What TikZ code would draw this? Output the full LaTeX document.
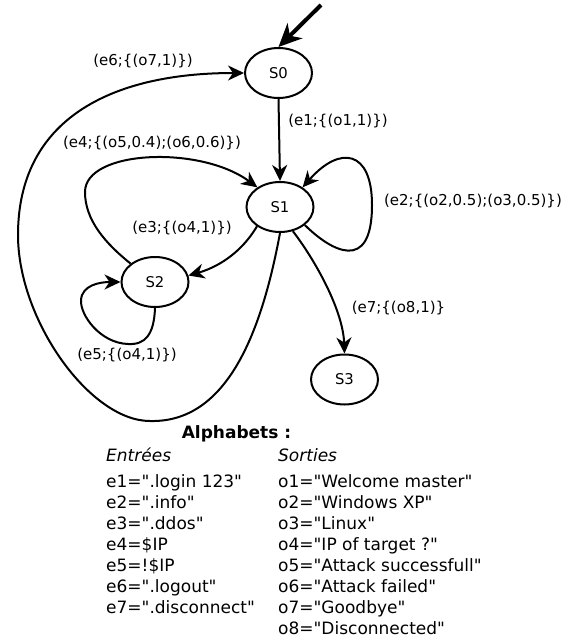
\documentclass[tikz,border=0pt]{standalone}
\usepackage{fontspec}
\setmainfont{DejaVu Sans}[Ligatures=TeXOff]
\usetikzlibrary{arrows.meta,shapes.geometric}
\begin{document}
\begin{tikzpicture}[x=1pt,y=-1pt,
  state/.style={draw,ellipse,line width=2pt,minimum width=67pt,minimum height=50pt,inner sep=0pt,font=\fontsize{14.8}{17}\selectfont},
  edge/.style={line width=2pt,-{Stealth[length=16pt,width=15pt,inset=5pt]}},
  lbl/.style={font=\fontsize{15}{17}\selectfont,inner sep=0pt},
  leg/.style={font=\fontsize{17}{21}\selectfont,anchor=base west,inner sep=0pt}]
\useasboundingbox (0,0) rectangle (580,639);
\node[state] (S0) at (278.5,73) {S0};
\node[state] (S1) at (280,207) {S1};
\node[state] (S2) at (155,282) {S2};
\node[state] (S3) at (344.5,379.5) {S3};
\coordinate (init) at (321,5);
\draw[line width=4pt,-{Stealth[length=23pt,width=21pt,inset=7pt]}] (init) -- (S0.north);
% e1
\draw[edge] (S0.south) -- (S1.north);
% e2 self loop
\draw[edge] (S1.-36) .. controls (330,250) and (372,275) .. (372,205) .. controls (372,150) and (340,145) .. (S1.41);
% e3
\draw[edge] (S1.220) .. controls (240,255) and (215,268) .. (S2.11);
% e4
\draw[edge] (S2.143) .. controls (105,243) and (85,220) .. (85,192) .. controls (85,150) and (200,145) .. (S1.139);
% e5 self loop
\draw[edge] (S2.south) .. controls (154,335) and (145,345) .. (128,344) .. controls (100,343) and (80,315) .. (81,300) .. controls (82,285) and (100,282) .. (S2.west);
% e7
\draw[edge] (S1.-62) .. controls (315,260) and (343,310) .. (S3.north);
% e6
\draw[edge] (S1.south) .. controls (262,330) and (228,423) .. (150,421) .. controls (90,421) and (18,320) .. (18,235) .. controls (18,120) and (110,73) .. (S0.west);
% labels
\node[lbl] (l6) at (143,61) {(e6;\{(o7,1)\})};
\node[lbl] (l1) at (338,121) {(e1;\{(o1,1)\})};
\node[lbl] (l4) at (152,143) {(e4;\{(o5,0.4);(o6,0.6)\})};
\node[lbl] (l2) at (473,201) {(e2;\{(o2,0.5);(o3,0.5)\})};
\node[lbl] (l3) at (182,228) {(e3;\{(o4,1)\})};
\node[lbl] (l7) at (398.5,308) {(e7;\{(o8,1)\}};
\node[lbl] (l5) at (127,355) {(e5;\{(o4,1)\})};
% legend
\node[font=\fontsize{17}{21}\selectfont\bfseries,anchor=base,inner sep=0pt] (alpha) at (236.5,438) {Alphabets :};
\node[leg] (ent) at (106,461) {\itshape Entrées};
\node[leg] (sor) at (278,461) {\itshape Sorties};
\node[leg] (i1) at (106,487) {e1=".login 123"};
\node[leg] (i2) at (106,508) {e2=".info"};
\node[leg] (i3) at (106,529) {e3=".ddos"};
\node[leg] (i4) at (106,550) {e4=\$IP};
\node[leg] (i5) at (106,571) {e5=!\$IP};
\node[leg] (i6) at (106,592) {e6=".logout"};
\node[leg] (i7) at (106,613) {e7=".disconnect"};
\node[leg] (o1) at (278,487) {o1="Welcome master"};
\node[leg] (o2) at (278,508) {o2="Windows XP"};
\node[leg] (o3) at (278,529) {o3="Linux"};
\node[leg] (o4) at (278,550) {o4="IP of target ?"};
\node[leg] (o5) at (278,571) {o5="Attack successfull"};
\node[leg] (o6) at (278,592) {o6="Attack failed"};
\node[leg] (o7) at (278,613) {o7="Goodbye"};
\node[leg] (o8) at (278,634) {o8="Disconnected"};
\end{tikzpicture}
\end{document}
